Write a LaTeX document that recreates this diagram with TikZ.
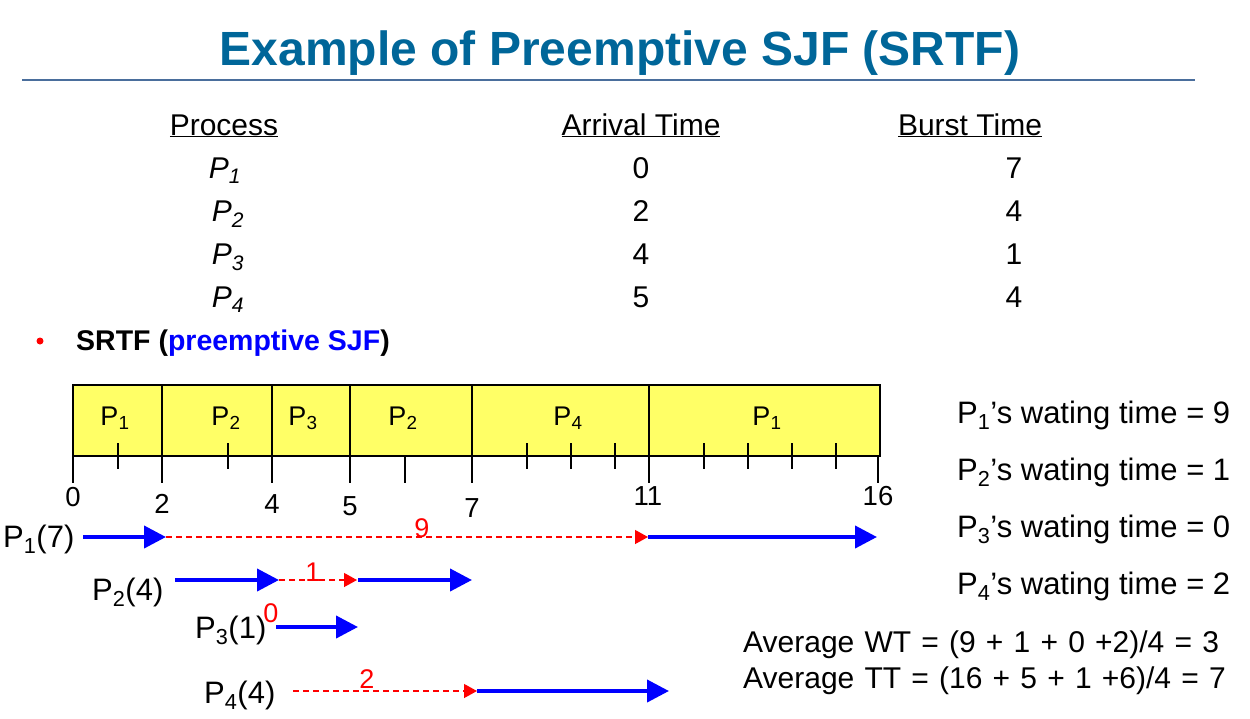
\documentclass[tikz,border=0pt]{standalone}
\usepackage{fontspec}
\setmainfont{Liberation Sans}
\usetikzlibrary{arrows.meta}
\definecolor{titleblue}{RGB}{0,102,153}
\definecolor{ruleblue}{RGB}{74,110,156}
\definecolor{ganttyellow}{RGB}{255,255,102}
\newcommand\fsz[1]{\fontsize{#1}{#1}\selectfont}
\newcommand\widesp{\spaceskip=10.2pt\relax}
\tikzset{
  txt/.style={anchor=base, inner sep=0pt, font=\fsz{30}},
  txtw/.style={anchor=base west, inner sep=0pt, font=\fsz{31}},
  avg/.style={anchor=base west, inner sep=0pt, font=\fsz{30}},
  gl/.style={anchor=base, inner sep=0pt, font=\fsz{27}},
  tl/.style={anchor=base, inner sep=0pt, font=\fsz{27.5}},
  rl/.style={anchor=base, inner sep=0pt, font=\fsz{27}, text=red},
  runarrow/.style={blue, line width=4pt, -{Triangle[length=22pt,width=22pt]}},
  waitarrow/.style={red, line width=1.3pt, dash pattern=on 6pt off 4pt, -{Triangle[length=13pt,width=14pt]}},
  divider/.style={line width=1.2pt},
  smalltick/.style={line width=1.2pt},
}
\begin{document}
\begin{tikzpicture}[x=1pt,y=-1pt]
\useasboundingbox (0,0) rectangle (1250,718);
% title
\node[anchor=base, inner sep=0pt, font=\fsz{48}\bfseries, text=titleblue] (title) at (620,65) {Example of Preemptive SJF (SRTF)};
\draw[ruleblue, line width=2.5pt] (22,80) -- (1195,80);
% table
\node[txt] (hproc) at (224,135) {\underline{Process}};
\node[txt] (harr) at (641,135) {\underline{Arrival Time}};
\node[txt] (hbur) at (970,135) {\underline{Burst Time}};
\node[txt] (p1) at (225,178) {\textit{P\textsubscript{1}}};
\node[txt] (p2) at (228,221) {\textit{P\textsubscript{2}}};
\node[txt] (p3) at (228,264) {\textit{P\textsubscript{3}}};
\node[txt] (p4) at (228,307) {\textit{P\textsubscript{4}}};
\node[txt] (a1) at (641,178) {0};
\node[txt] (a2) at (641,221) {2};
\node[txt] (a3) at (641,264) {4};
\node[txt] (a4) at (641,307) {5};
\node[txt] (b1) at (1014,178) {7};
\node[txt] (b2) at (1014,221) {4};
\node[txt] (b3) at (1014,264) {1};
\node[txt] (b4) at (1014,307) {4};
% bullet
\fill[red] (40,341) circle (3.5);
\node[anchor=base west, inner sep=0pt, font=\fsz{28.5}\bfseries] (srtf) at (76,350) {SRTF (\textcolor{blue}{preemptive SJF})};
% gantt chart
\draw[fill=ganttyellow, line width=1.3pt] (73,385) rectangle (880,456);
\foreach \x in {73,162,272,350,472,649} \draw[divider] (\x,385) -- (\x,483);
\draw[divider] (878,456) -- (878,483);
\draw[smalltick] (405,456) -- (405,483);
\foreach \x in {118,228,527,571,615,704,748,792,836} \draw[smalltick] (\x,443) -- (\x,469);
\node[gl] (g1) at (115,425) {P\textsubscript{1}};
\node[gl] (g2) at (226,425) {P\textsubscript{2}};
\node[gl] (g3) at (303,425) {P\textsubscript{3}};
\node[gl] (g4) at (403,425) {P\textsubscript{2}};
\node[gl] (g5) at (568,425) {P\textsubscript{4}};
\node[gl] (g6) at (767,425) {P\textsubscript{1}};
\node[tl] (t0) at (73,506) {0};
\node[tl] (t2) at (162,513) {2};
\node[tl] (t4) at (272,513) {4};
\node[tl] (t5) at (350,515) {5};
\node[tl] (t7) at (472,517) {7};
\node[tl] (t11) at (648,505) {11};
\node[tl] (t16) at (878,505) {16};
% process timelines
\node[txtw] (lp1) at (3,547) {P\textsubscript{1}(7)};
\node[txtw] (lp2) at (92,600) {P\textsubscript{2}(4)};
\node[txtw] (lp3) at (195,638) {P\textsubscript{3}(1)};
\node[txtw] (lp4) at (204,703) {P\textsubscript{4}(4)};
\coordinate (r1a) at (83,537);
\coordinate (r1b) at (166,537);
\coordinate (r1c) at (648,537);
\coordinate (r1d) at (877,537);
\draw[runarrow] (r1a) -- (r1b);
\draw[waitarrow] (r1b) -- (r1c);
\draw[runarrow] (r1c) -- (r1d);
\node[rl] (w9) at (422,537) {9};
\coordinate (r2a) at (175,580);
\coordinate (r2b) at (279,580);
\coordinate (r2c) at (357,580);
\coordinate (r2d) at (358,580);
\coordinate (r2e) at (472,580);
\draw[runarrow] (r2a) -- (r2b);
\draw[waitarrow] (r2b) -- (r2c);
\draw[runarrow] (r2d) -- (r2e);
\node[rl] (w1) at (313,581) {1};
\coordinate (r3a) at (276,627);
\coordinate (r3b) at (358,627);
\draw[runarrow] (r3a) -- (r3b);
\node[rl] (w0) at (271,622) {0};
\coordinate (r4a) at (293,691);
\coordinate (r4b) at (477,691);
\coordinate (r4c) at (669,691);
\draw[waitarrow] (r4a) -- (r4b);
\draw[runarrow] (r4b) -- (r4c);
\node[rl] (w2) at (367,688) {2};
% waiting times
\node[txtw] (wt1) at (957,423) {P\textsubscript{1}’s wating time = 9};
\node[txtw] (wt2) at (957,480) {P\textsubscript{2}’s wating time = 1};
\node[txtw] (wt3) at (957,537) {P\textsubscript{3}’s wating time = 0};
\node[txtw] (wt4) at (957,594) {P\textsubscript{4}’s wating time = 2};
\node[avg] (avw) at (743,652) {\widesp Average WT = (9 + 1 + 0 +2)/4 = 3};
\node[avg] (avt) at (743,688) {\widesp Average TT = (16 + 5 + 1 +6)/4 = 7};
\end{tikzpicture}
\end{document}
